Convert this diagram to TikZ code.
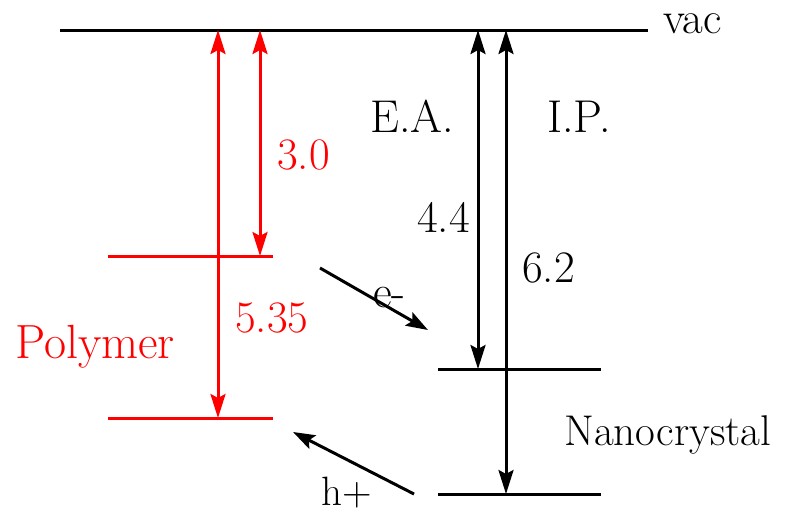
\documentclass[tikz,border=0pt]{standalone}
\usepackage{fontspec}
\usetikzlibrary{arrows.meta}
\tikzset{
  lvl/.style={line width=3pt},
  arr/.style={line width=3pt, {Stealth[length=24pt,width=15pt,inset=4pt]}-{Stealth[length=24pt,width=15pt,inset=4pt]}},
  sarr/.style={line width=3pt, -{Stealth[length=22pt,width=15pt,inset=4pt]}},
  txt/.style={inner sep=0pt, anchor=base west, font=\fontsize{#1}{#1}\selectfont},
  lbl/.style={txt=45}
}
\begin{document}
\begin{tikzpicture}[x=1pt,y=-1pt]
\useasboundingbox (0,0) rectangle (789,515);
% vacuum level
\coordinate (vacL) at (60,30);
\coordinate (vacR) at (648,30);
\draw[lvl] (vacL) -- (vacR);
\node[txt=45] (vac) at (663,33) {vac};
% polymer levels
\coordinate (pLUL) at (108,256); \coordinate (pLUR) at (273,256);
\coordinate (pHOL) at (108,418); \coordinate (pHOR) at (273,418);
\draw[lvl, red] (pLUL) -- (pLUR);
\draw[lvl, red] (pHOL) -- (pHOR);
% nanocrystal levels
\coordinate (nCBL) at (438,369); \coordinate (nCBR) at (601,369);
\coordinate (nVBL) at (438,494); \coordinate (nVBR) at (601,494);
\draw[lvl] (nCBL) -- (nCBR);
\draw[lvl] (nVBL) -- (nVBR);
% polymer arrows
\coordinate (ra1t) at (218,30); \coordinate (ra1b) at (218,418);
\coordinate (ra2t) at (260,30); \coordinate (ra2b) at (260,256);
\draw[arr, red] (ra1t) -- (ra1b);
\draw[arr, red] (ra2t) -- (ra2b);
% nanocrystal arrows
\coordinate (ba1t) at (478,30); \coordinate (ba1b) at (478,369);
\coordinate (ba2t) at (506,30); \coordinate (ba2b) at (506,494);
\draw[arr] (ba1t) -- (ba1b);
\draw[arr] (ba2t) -- (ba2b);
% transfer arrows
\coordinate (eS) at (320,268); \coordinate (eE) at (428,330);
\draw[sarr] (eS) -- (eE);
\coordinate (hS) at (414,494); \coordinate (hE) at (293,432);
\draw[sarr] (hS) -- (hE);
% labels
\node[lbl, red] (t30) at (277,169) {3.0};
\node[lbl, red] (t535) at (235,332) {5.35};
\node[txt=48, red] (tpoly) at (15,358) {Polymer};
\node[txt=46] (tea) at (370,132) {E.A.};
\node[txt=46] (tip) at (547,132) {I.P.};
\node[lbl] (t44) at (417,232) {4.4};
\node[lbl] (t62) at (522,282) {6.2};
\node[txt=46] (te) at (373,307) {e-};
\node[txt=41] (th) at (321,505) {h+};
\node[txt=43] (tnano) at (564,445) {Nanocrystal};
\end{tikzpicture}
\end{document}
